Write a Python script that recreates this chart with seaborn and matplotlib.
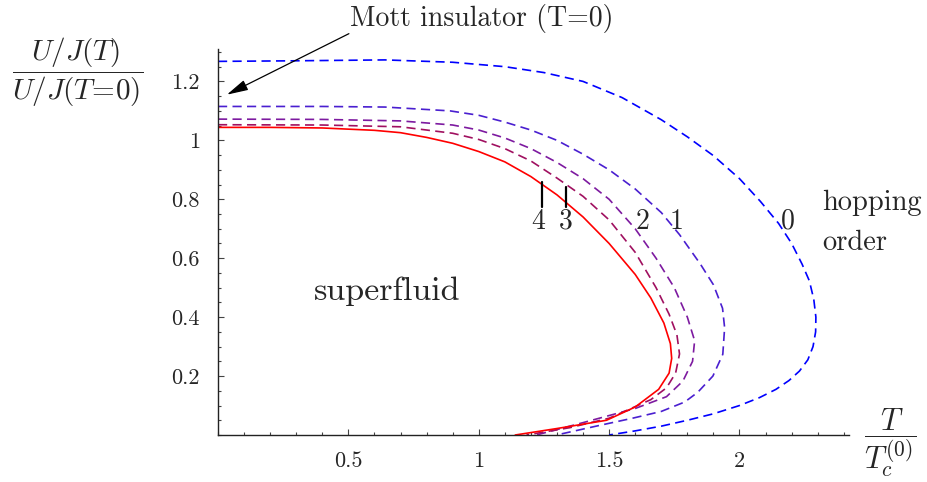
import pandas as pd
import matplotlib
matplotlib.use("Agg")
import matplotlib.pyplot as plt
import seaborn as sns
from matplotlib.ticker import FixedLocator, MultipleLocator

# hopping order 0 (outermost, blue dashed)
t0 = [0, 0.3, 0.64, 0.9, 1.1, 1.25, 1.4, 1.55, 1.7, 1.8, 1.9, 2.0, 2.08, 2.15, 2.2,
      2.24, 2.268, 2.285, 2.293, 2.292, 2.282, 2.262, 2.23, 2.19, 2.14, 2.077, 2.0,
      1.9, 1.8, 1.7, 1.6, 1.5]
u0 = [1.268, 1.27, 1.273, 1.265, 1.25, 1.23, 1.2, 1.145, 1.07, 1.012, 0.948, 0.87, 0.793, 0.718, 0.65,
      0.58, 0.523, 0.46, 0.40, 0.35, 0.30, 0.255, 0.217, 0.185, 0.155, 0.127, 0.1,
      0.072, 0.05, 0.03, 0.014, 0]

# hopping order 1
t1 = [0, 0.4, 0.64, 0.89, 1.0, 1.1, 1.2, 1.3, 1.4, 1.5, 1.6, 1.7, 1.77, 1.85, 1.9,
      1.935, 1.943, 1.936, 1.898, 1.84, 1.79, 1.7, 1.59, 1.45, 1.298]
u1 = [1.115, 1.115, 1.113, 1.10, 1.085, 1.062, 1.035, 1.0, 0.953, 0.9, 0.835, 0.755, 0.68, 0.58, 0.51,
      0.43, 0.364, 0.274, 0.2, 0.145, 0.112, 0.08, 0.057, 0.03, 0]

# hopping order 2
t2 = [0, 0.4, 0.7, 0.9, 1.0, 1.1, 1.2, 1.3, 1.4, 1.5, 1.6, 1.68, 1.75, 1.8,
      1.828, 1.82, 1.783, 1.72, 1.6, 1.4, 1.221]
u2 = [1.072, 1.071, 1.066, 1.052, 1.035, 1.008, 0.972, 0.925, 0.87, 0.8, 0.70, 0.6, 0.5, 0.4,
      0.32, 0.25, 0.183, 0.13, 0.09, 0.042, 0]

# hopping order 3
t3 = [0, 0.4, 0.7, 0.9, 1.0, 1.1, 1.2, 1.3, 1.4, 1.5, 1.6, 1.68, 1.73, 1.76,
      1.77, 1.755, 1.72, 1.66, 1.5, 1.35, 1.183]
u3 = [1.053, 1.052, 1.046, 1.024, 1.003, 0.972, 0.93, 0.872, 0.81, 0.73, 0.62, 0.5, 0.41, 0.34,
      0.275, 0.21, 0.16, 0.12, 0.057, 0.025, 0]

# hopping order 4 (red solid)
t4 = [0, 0.2, 0.4, 0.6, 0.7, 0.8, 0.9, 1.0, 1.1, 1.2, 1.3, 1.4, 1.5, 1.6, 1.66,
      1.71, 1.735, 1.74, 1.73, 1.69, 1.6, 1.49, 1.3, 1.14]
u4 = [1.044, 1.044, 1.042, 1.034, 1.026, 1.01, 0.99, 0.962, 0.927, 0.877, 0.815, 0.74, 0.65, 0.545, 0.465,
      0.38, 0.31, 0.26, 0.21, 0.155, 0.095, 0.05, 0.022, 0]

order_labels = ["0", "1", "2", "3", "4"]
label_t = [2.185, 1.759, 1.63, 1.334, 1.227]
label_u = 0.724

xticks = [0.5, 1, 1.5, 2]
xticklabels = ["0.5", "1", "1.5", "2"]
yticks = [0.2, 0.4, 0.6, 0.8, 1.0, 1.2]
yticklabels = ["0.2", "0.4", "0.6", "0.8", "1", "1.2"]

sns.set_style("ticks")
plt.rcParams["font.family"] = ["cmr10", "DejaVu Serif"]
plt.rcParams["mathtext.fontset"] = "cm"
plt.rcParams["axes.unicode_minus"] = False

fig = plt.figure(figsize=(9.27, 4.82), dpi=100)
ax = fig.add_axes([218 / 927, 47 / 482, 631 / 927, 386 / 482])

curves = [(t0, u0, "#0000ff", "dash"), (t1, u1, "#4a1fd0", "dash"),
          (t2, u2, "#7d1aa0", "dash"), (t3, u3, "#a01060", "dash"),
          (t4, u4, "#ff0000", "solid")]
for t, u, col, kind in curves:
    df = pd.DataFrame({"T": t, "U": u})
    ls = (0, (5.5, 3.2)) if kind == "dash" else "-"
    sns.lineplot(data=df, x="T", y="U", sort=False, estimator=None, color=col,
                 lw=1.2, linestyle=ls, ax=ax)

ax.set_xlim(0, 2.42)
ax.set_ylim(0, 1.31)
ax.xaxis.set_major_locator(FixedLocator(xticks))
ax.set_xticklabels(xticklabels)
ax.yaxis.set_major_locator(FixedLocator(yticks))
ax.set_yticklabels(yticklabels)
ax.xaxis.set_minor_locator(MultipleLocator(0.1))
ax.yaxis.set_minor_locator(MultipleLocator(0.05))
ax.tick_params(which="both", direction="in", width=0.8, color="#444444")
ax.tick_params(which="major", length=4)
ax.tick_params(which="minor", length=2.5)
ax.tick_params(axis="x", pad=12, labelsize=16)
ax.tick_params(axis="y", pad=13, labelsize=16)
ax.set_xlabel("")
ax.set_ylabel("")
sns.despine(ax=ax)
for s in ["left", "bottom"]:
    ax.spines[s].set_linewidth(1.0)
    ax.spines[s].set_color("#222222")

# small markers for orders 4 and 3
ax.plot([1.241, 1.241], [0.774, 0.859], color="black", lw=1.6)
ax.plot([1.333, 1.333], [0.774, 0.843], color="black", lw=1.6)

for lab, tx in zip(order_labels, label_t):
    ax.text(tx, label_u, lab, ha="center", va="center", fontsize=20)

ax.text(0.648, 0.489, "superfluid", ha="center", va="center", fontsize=24.5)
ax.text(2.318, 0.788, "hopping", ha="left", va="center", fontsize=20.5, clip_on=False)
ax.text(2.318, 0.652, "order", ha="left", va="center", fontsize=20.5, clip_on=False)

ax.text(0.506, 1.413, "Mott insulator (T=0)", ha="left", va="center", fontsize=20, clip_on=False)
ax.annotate("", xy=(0.034, 1.155), xytext=(0.502, 1.362), annotation_clip=False,
            arrowprops=dict(arrowstyle="-|>,head_length=1.0,head_width=0.25",
                            color="black", lw=0.9, shrinkA=0, shrinkB=0, mutation_scale=13))

fig.text(78 / 927, 1 - 72 / 482, r"$\dfrac{U/J(T)}{U/J(T\!=\!0)}$", ha="center", va="center", fontsize=21)
fig.text(890 / 927, 1 - 443 / 482, r"$\dfrac{T}{T_c^{(0)}}$", ha="center", va="center", fontsize=22)

fig.savefig("out.png", dpi=100)
